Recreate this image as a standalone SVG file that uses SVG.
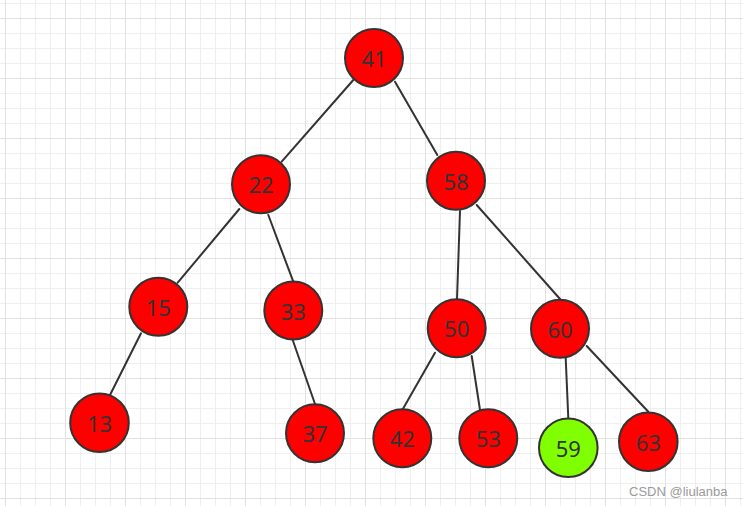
<svg xmlns="http://www.w3.org/2000/svg" width="743" height="506" viewBox="0 0 743 506">
<defs>
<pattern id="grid" patternUnits="userSpaceOnUse" x="5" y="3" width="60" height="60">
<rect x="0" y="0" width="60" height="60" fill="#ffffff"/>
<rect x="15" y="0" width="1" height="60" fill="#efefef"/>
<rect x="30" y="0" width="1" height="60" fill="#efefef"/>
<rect x="45" y="0" width="1" height="60" fill="#efefef"/>
<rect x="0" y="0" width="60" height="1" fill="#efefef"/>
<rect x="0" y="30" width="60" height="1" fill="#efefef"/>
<rect x="0" y="45" width="60" height="1" fill="#efefef"/>
<rect x="0" y="0" width="1" height="60" fill="#e2e2e2"/>
<rect x="0" y="15" width="60" height="1" fill="#e2e2e2"/>
</pattern>
<style>
.edge{stroke:#333333;stroke-width:2;fill:none;stroke-linecap:round}
.node circle{stroke:#333333;stroke-width:2}
.red{fill:#ff0000}
.green{fill:#80ff00}
.node text{font-family:"Noto Sans","Open Sans",sans-serif;font-size:22px;fill:#333333;text-anchor:middle;dominant-baseline:central}
.wm{font-family:"Liberation Sans",Arial,sans-serif;font-size:13px;fill:#9a9a9a}
</style>
</defs>
<rect x="0" y="0" width="743" height="506" fill="url(#grid)"/>
<g id="connectors">
<line class="edge" x1="353.3" y1="80" x2="281.7" y2="161.7"/>
<line class="edge" x1="395" y1="81.7" x2="437.3" y2="155"/>
<line class="edge" x1="239.3" y1="209" x2="177.7" y2="282.7"/>
<line class="edge" x1="268.3" y1="215" x2="293.3" y2="281.7"/>
<line class="edge" x1="141" y1="333.3" x2="110" y2="395"/>
<line class="edge" x1="292.7" y1="340" x2="315" y2="404"/>
<line class="edge" x1="460" y1="211" x2="457" y2="299.3"/>
<line class="edge" x1="476.7" y1="205" x2="560" y2="299"/>
<line class="edge" x1="435" y1="352.7" x2="402.3" y2="410"/>
<line class="edge" x1="471.7" y1="356" x2="480" y2="410"/>
<line class="edge" x1="565.7" y1="358" x2="568.3" y2="418.3"/>
<line class="edge" x1="586.7" y1="346" x2="648.3" y2="411.7"/>
</g>
<g id="n41" class="node"><circle class="red" cx="374" cy="58" r="29"/><text x="374" y="58">41</text></g>
<g id="n22" class="node"><circle class="red" cx="261" cy="184.3" r="29"/><text x="261" y="184.3">22</text></g>
<g id="n58" class="node"><circle class="red" cx="456" cy="180.7" r="29"/><text x="456" y="180.7">58</text></g>
<g id="n15" class="node"><circle class="red" cx="158.3" cy="306.7" r="29"/><text x="158.3" y="306.7">15</text></g>
<g id="n33" class="node"><circle class="red" cx="293.3" cy="310.5" r="29"/><text x="293.3" y="310.5">33</text></g>
<g id="n50" class="node"><circle class="red" cx="456.7" cy="328.3" r="29"/><text x="456.7" y="328.3">50</text></g>
<g id="n60" class="node"><circle class="red" cx="560" cy="328.8" r="29"/><text x="560" y="328.8">60</text></g>
<g id="n13" class="node"><circle class="red" cx="99.5" cy="422.7" r="29.3"/><text x="99.5" y="422.7">13</text></g>
<g id="n37" class="node"><circle class="red" cx="315" cy="433.3" r="29"/><text x="315" y="433.3">37</text></g>
<g id="n42" class="node"><circle class="red" cx="402.3" cy="438.3" r="29"/><text x="402.3" y="438.3">42</text></g>
<g id="n53" class="node"><circle class="red" cx="488.3" cy="438.3" r="29"/><text x="488.3" y="438.3">53</text></g>
<g id="n59" class="node"><circle class="green" cx="568.3" cy="447.7" r="29.3"/><text x="568.3" y="447.7">59</text></g>
<g id="n63" class="node"><circle class="red" cx="648.3" cy="441.7" r="29.3"/><text x="648.3" y="441.7">63</text></g>
<text class="wm" x="629" y="496">CSDN @liulanba</text>
</svg>
